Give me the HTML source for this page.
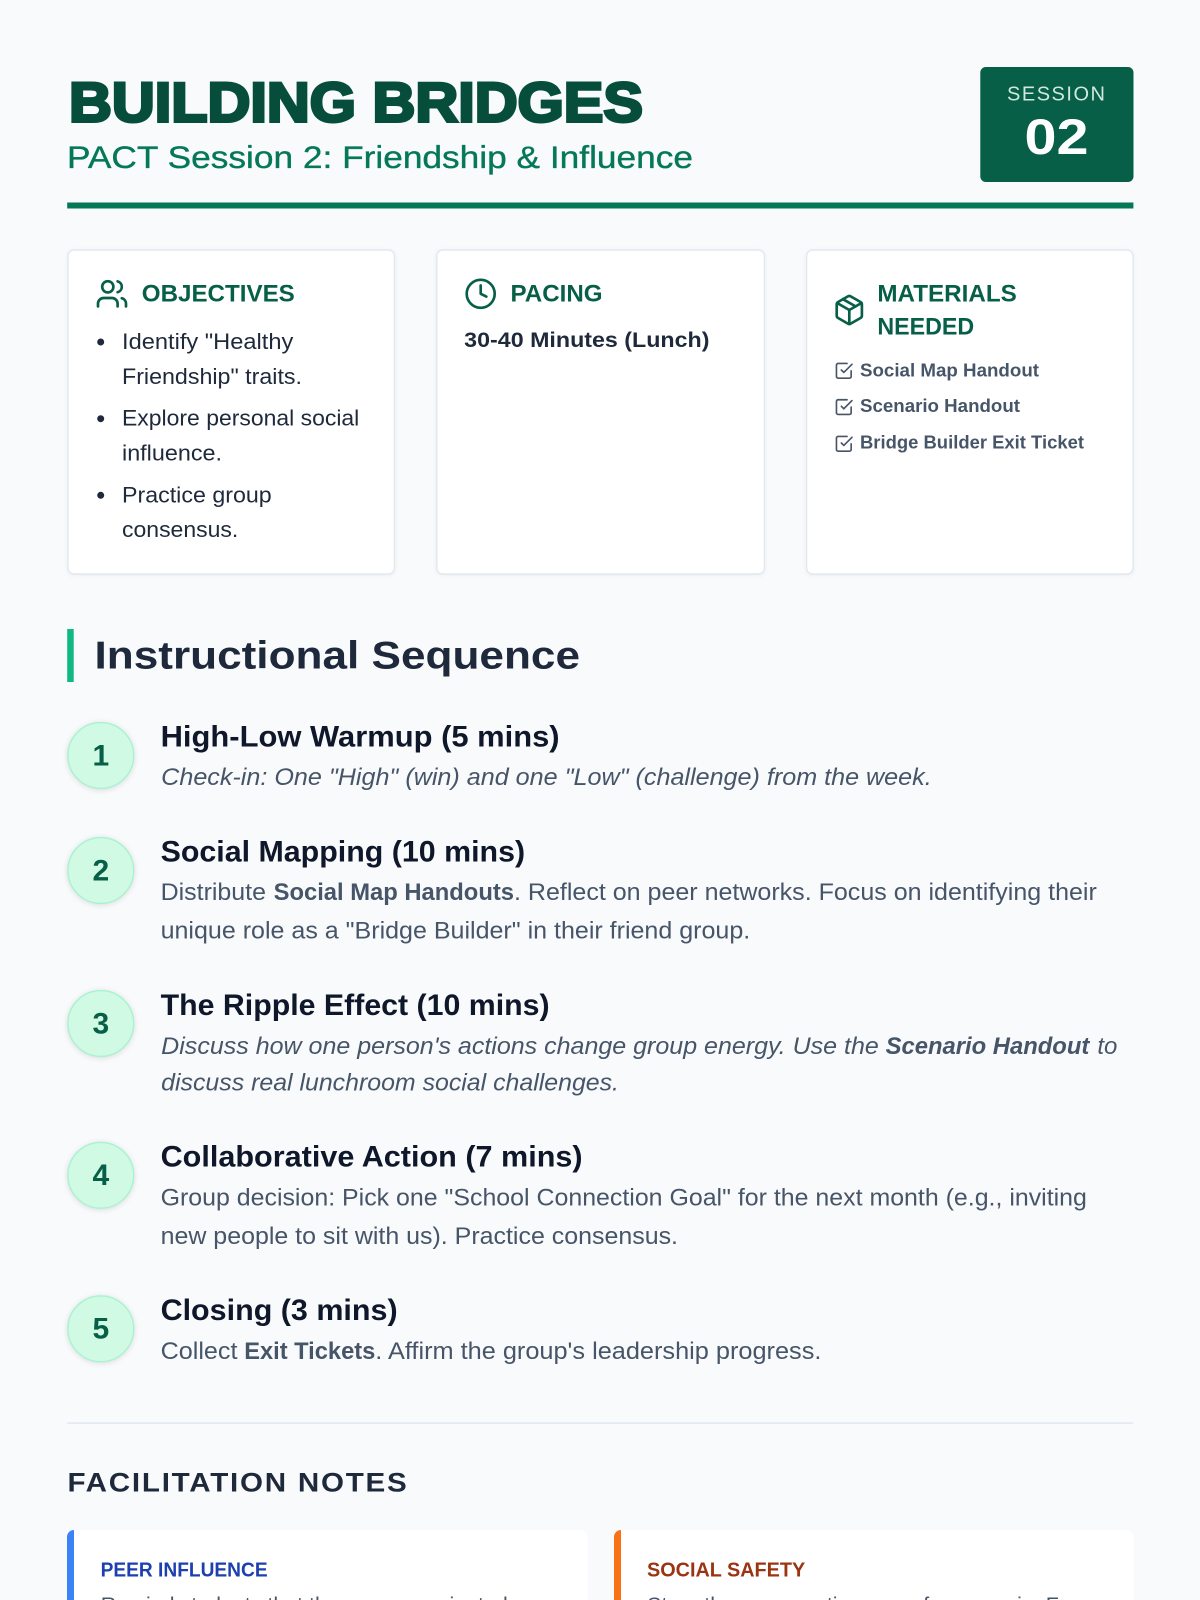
<!DOCTYPE html>
<html lang="en">
<head>
<meta charset="utf-8">
<title>Building Bridges</title>
<style>
html,body{margin:0;padding:0;background:#f9fafc;width:1200px;height:1600px;overflow:hidden}
svg{display:block;filter:blur(.35px)}
text{font-family:"Liberation Sans",sans-serif;white-space:pre}
.h{font-size:24px;font-weight:700;fill:#065f46}
.li{font-size:22px;fill:#1e293b}
.mat{font-size:18px;font-weight:700;fill:#475569}
.num{font-size:30px;font-weight:700;fill:#065f46;text-anchor:middle}
.st{font-size:29.5px;font-weight:700;fill:#0f172a}
.d{font-size:24px;fill:#475569}
.b{font-weight:700}
.i{font-style:italic}
.card{fill:#fff;stroke:#e2e8f0;stroke-width:1.4;filter:drop-shadow(0 1.4px 2px rgba(0,0,0,.05))}
.circ{fill:#d1fae5;stroke:#a7f3d0;stroke-width:1.4;filter:drop-shadow(0 1.5px 3px rgba(0,0,0,.12))}
.ic{fill:none;stroke:#065f46;stroke-width:1.9;stroke-linecap:round;stroke-linejoin:round}
.ck{fill:none;stroke:#475569;stroke-width:2;stroke-linecap:round;stroke-linejoin:round}
.nb{font-size:20.5px;fill:#475569}
</style>
</head>
<body>
<svg xmlns="http://www.w3.org/2000/svg" width="1200" height="1600" viewBox="0 0 1200 1600">
<defs>
<g id="chk"><polyline points="9 11 12 14 22 4"/><path d="M21 12v7a2 2 0 0 1-2 2H5a2 2 0 0 1-2-2V5a2 2 0 0 1 2-2h11"/></g>
</defs>
<rect width="1200" height="1600" fill="#f9fafc"/>

<!-- Header -->
<text x="69" y="121.5" font-size="56" font-weight="700" fill="#064e3b" stroke="#064e3b" stroke-width="3" textLength="574" lengthAdjust="spacingAndGlyphs">BUILDING BRIDGES</text>
<text x="67" y="168" font-size="31.5" fill="#047857" stroke="#047857" stroke-width=".35" textLength="626" lengthAdjust="spacingAndGlyphs">PACT Session 2: Friendship &amp; Influence</text>
<rect x="980.3" y="67" width="153.2" height="115" rx="5.6" fill="#065f46"/>
<text x="1007" y="100.3" font-size="20" fill="#d1e7df" textLength="98" lengthAdjust="spacing">SESSION</text>
<text x="1024.5" y="154" font-size="50" font-weight="700" fill="#fff" textLength="64" lengthAdjust="spacingAndGlyphs">02</text>
<rect x="67.2" y="202.5" width="1066.2" height="6" fill="#047857"/>

<!-- Cards -->
<rect class="card" x="68" y="250" width="326.4" height="324" rx="6"/>
<rect class="card" x="436.8" y="250" width="327.6" height="324" rx="6"/>
<rect class="card" x="806.6" y="250" width="326.4" height="324" rx="6"/>

<!-- Objectives -->
<g class="ic" transform="translate(95.2 277) scale(1.4)">
<path d="M16 21v-2a4 4 0 0 0-4-4H6a4 4 0 0 0-4 4v2"/><circle cx="9" cy="7" r="4"/><path d="M22 21v-2a4 4 0 0 0-3-3.87"/><path d="M16 3.13a4 4 0 0 1 0 7.75"/>
</g>
<text class="h" x="141.8" y="301.7" textLength="153" lengthAdjust="spacingAndGlyphs">OBJECTIVES</text>
<circle cx="100.7" cy="342" r="3.5" fill="#1e293b"/>
<circle cx="100.7" cy="418.7" r="3.5" fill="#1e293b"/>
<circle cx="100.7" cy="495.3" r="3.5" fill="#1e293b"/>
<text class="li" x="122" y="349" textLength="171.3" lengthAdjust="spacingAndGlyphs">Identify "Healthy</text>
<text class="li" x="122" y="384" textLength="180" lengthAdjust="spacingAndGlyphs">Friendship" traits.</text>
<text class="li" x="122" y="425.7" textLength="237.3" lengthAdjust="spacingAndGlyphs">Explore personal social</text>
<text class="li" x="122" y="460.7" textLength="100" lengthAdjust="spacingAndGlyphs">influence.</text>
<text class="li" x="122" y="502.3" textLength="149.7" lengthAdjust="spacingAndGlyphs">Practice group</text>
<text class="li" x="122" y="537" textLength="116.3" lengthAdjust="spacingAndGlyphs">consensus.</text>

<!-- Pacing -->
<g class="ic" transform="translate(463.9 277) scale(1.4)">
<circle cx="12" cy="12" r="10"/><polyline points="12 6 12 12 16 14"/>
</g>
<text class="h" x="510.5" y="301.7" textLength="92" lengthAdjust="spacingAndGlyphs">PACING</text>
<text x="464.2" y="347" font-size="21.5" font-weight="700" fill="#1e293b" textLength="245.3" lengthAdjust="spacingAndGlyphs">30-40 Minutes (Lunch)</text>

<!-- Materials -->
<g class="ic" transform="translate(832.5 293.2) scale(1.4)">
<path d="m7.5 4.27 9 5.15"/><path d="M21 8a2 2 0 0 0-1-1.73l-7-4a2 2 0 0 0-2 0l-7 4A2 2 0 0 0 3 8v8a2 2 0 0 0 1 1.73l7 4a2 2 0 0 0 2 0l7-4A2 2 0 0 0 21 16Z"/><path d="m3.3 7 8.7 5 8.7-5"/><path d="M12 22V12"/>
</g>
<text class="h" x="877.4" y="301.6" textLength="139.4" lengthAdjust="spacingAndGlyphs">MATERIALS</text>
<text class="h" x="877.4" y="334.4" textLength="96.8" lengthAdjust="spacingAndGlyphs">NEEDED</text>
<use href="#chk" class="ck" transform="translate(834 361) scale(.817)"/>
<use href="#chk" class="ck" transform="translate(834 397.3) scale(.817)"/>
<use href="#chk" class="ck" transform="translate(834 434) scale(.817)"/>
<text class="mat" x="860" y="376.7" textLength="179" lengthAdjust="spacingAndGlyphs">Social Map Handout</text>
<text class="mat" x="860" y="412" textLength="160" lengthAdjust="spacingAndGlyphs">Scenario Handout</text>
<text class="mat" x="860" y="448.3" textLength="224" lengthAdjust="spacingAndGlyphs">Bridge Builder Exit Ticket</text>

<!-- Instructional Sequence -->
<rect x="67.2" y="629" width="6.5" height="53" fill="#10b981"/>
<text x="94.5" y="668.7" font-size="38.5" font-weight="700" fill="#1e293b" textLength="485.5" lengthAdjust="spacingAndGlyphs">Instructional Sequence</text>

<circle class="circ" cx="100.8" cy="755.5" r="32.9"/>
<text class="num" x="100.8" y="765.3">1</text>
<text class="st" x="160.6" y="746.7" textLength="399" lengthAdjust="spacingAndGlyphs">High-Low Warmup (5 mins)</text>
<text class="d i" x="161.2" y="785" textLength="770.5" lengthAdjust="spacingAndGlyphs">Check-in: One "High" (win) and one "Low" (challenge) from the week.</text>

<circle class="circ" cx="100.8" cy="870.5" r="32.9"/>
<text class="num" x="100.8" y="880.3">2</text>
<text class="st" x="160.6" y="861.7" textLength="364.5" lengthAdjust="spacingAndGlyphs">Social Mapping (10 mins)</text>
<text class="d" x="160.6" y="900.2" textLength="105.4" lengthAdjust="spacingAndGlyphs">Distribute</text>
<text class="d b" x="273.6" y="900.2" textLength="240.4" lengthAdjust="spacingAndGlyphs">Social Map Handouts</text>
<text class="d" x="514" y="900.2" textLength="582.8" lengthAdjust="spacingAndGlyphs">. Reflect on peer networks. Focus on identifying their</text>
<text class="d" x="160.6" y="938.6" textLength="589.6" lengthAdjust="spacingAndGlyphs">unique role as a "Bridge Builder" in their friend group.</text>

<circle class="circ" cx="100.8" cy="1023.5" r="32.9"/>
<text class="num" x="100.8" y="1033.3">3</text>
<text class="st" x="160.6" y="1015" textLength="389" lengthAdjust="spacingAndGlyphs">The Ripple Effect (10 mins)</text>
<text class="d i" x="161.2" y="1054" textLength="717.6" lengthAdjust="spacingAndGlyphs">Discuss how one person's actions change group energy. Use the</text>
<text class="d i b" x="885.6" y="1054" textLength="203.7" lengthAdjust="spacingAndGlyphs">Scenario Handout</text>
<text class="d i" x="1097.4" y="1054" textLength="20" lengthAdjust="spacingAndGlyphs">to</text>
<text class="d i" x="161.2" y="1090.7" textLength="457.8" lengthAdjust="spacingAndGlyphs">discuss real lunchroom social challenges.</text>

<circle class="circ" cx="100.8" cy="1175.3" r="32.9"/>
<text class="num" x="100.8" y="1184.8">4</text>
<text class="st" x="160.6" y="1166.6" textLength="422" lengthAdjust="spacingAndGlyphs">Collaborative Action (7 mins)</text>
<text class="d" x="160.6" y="1205.5" textLength="926.3" lengthAdjust="spacingAndGlyphs">Group decision: Pick one "School Connection Goal" for the next month (e.g., inviting</text>
<text class="d" x="160.6" y="1243.8" textLength="517.4" lengthAdjust="spacingAndGlyphs">new people to sit with us). Practice consensus.</text>

<circle class="circ" cx="100.8" cy="1328.8" r="32.9"/>
<text class="num" x="100.8" y="1338.3">5</text>
<text class="st" x="160.6" y="1320" textLength="237" lengthAdjust="spacingAndGlyphs">Closing (3 mins)</text>
<text class="d" x="160.6" y="1359" textLength="76.9" lengthAdjust="spacingAndGlyphs">Collect</text>
<text class="d b" x="244.2" y="1359" textLength="131.1" lengthAdjust="spacingAndGlyphs">Exit Tickets</text>
<text class="d" x="375.3" y="1359" textLength="446.1" lengthAdjust="spacingAndGlyphs">. Affirm the group's leadership progress.</text>

<!-- Divider -->
<rect x="67.2" y="1422.3" width="1066" height="1.6" fill="#e2e8f0"/>

<!-- Facilitation -->
<text x="67.5" y="1491.7" font-size="27" font-weight="700" fill="#1e293b" letter-spacing="1.6" textLength="341" lengthAdjust="spacingAndGlyphs">FACILITATION NOTES</text>

<rect x="67" y="1530" width="520.4" height="100" rx="7" fill="#fff"/>
<path d="M74 1530 a7 7 0 0 0 -7 7 V1630 H74 Z" fill="#3b82f6"/>
<text x="100.6" y="1576.5" font-size="20.5" font-weight="700" fill="#1e40af" textLength="167" lengthAdjust="spacingAndGlyphs">PEER INFLUENCE</text>
<text class="nb" x="100.8" y="1611.5" textLength="407" lengthAdjust="spacingAndGlyphs">Remind students that they were nominated</text>

<rect x="614" y="1530" width="519.6" height="100" rx="7" fill="#fff"/>
<path d="M621 1530 a7 7 0 0 0 -7 7 V1630 H621 Z" fill="#f97316"/>
<text x="647" y="1576.5" font-size="20.5" font-weight="700" fill="#9a3412" textLength="158.2" lengthAdjust="spacingAndGlyphs">SOCIAL SAFETY</text>
<text class="nb" x="647.2" y="1611.5" textLength="456.8" lengthAdjust="spacingAndGlyphs">Steer the conversation away from gossip. Focus</text>
</svg>
</body>
</html>
